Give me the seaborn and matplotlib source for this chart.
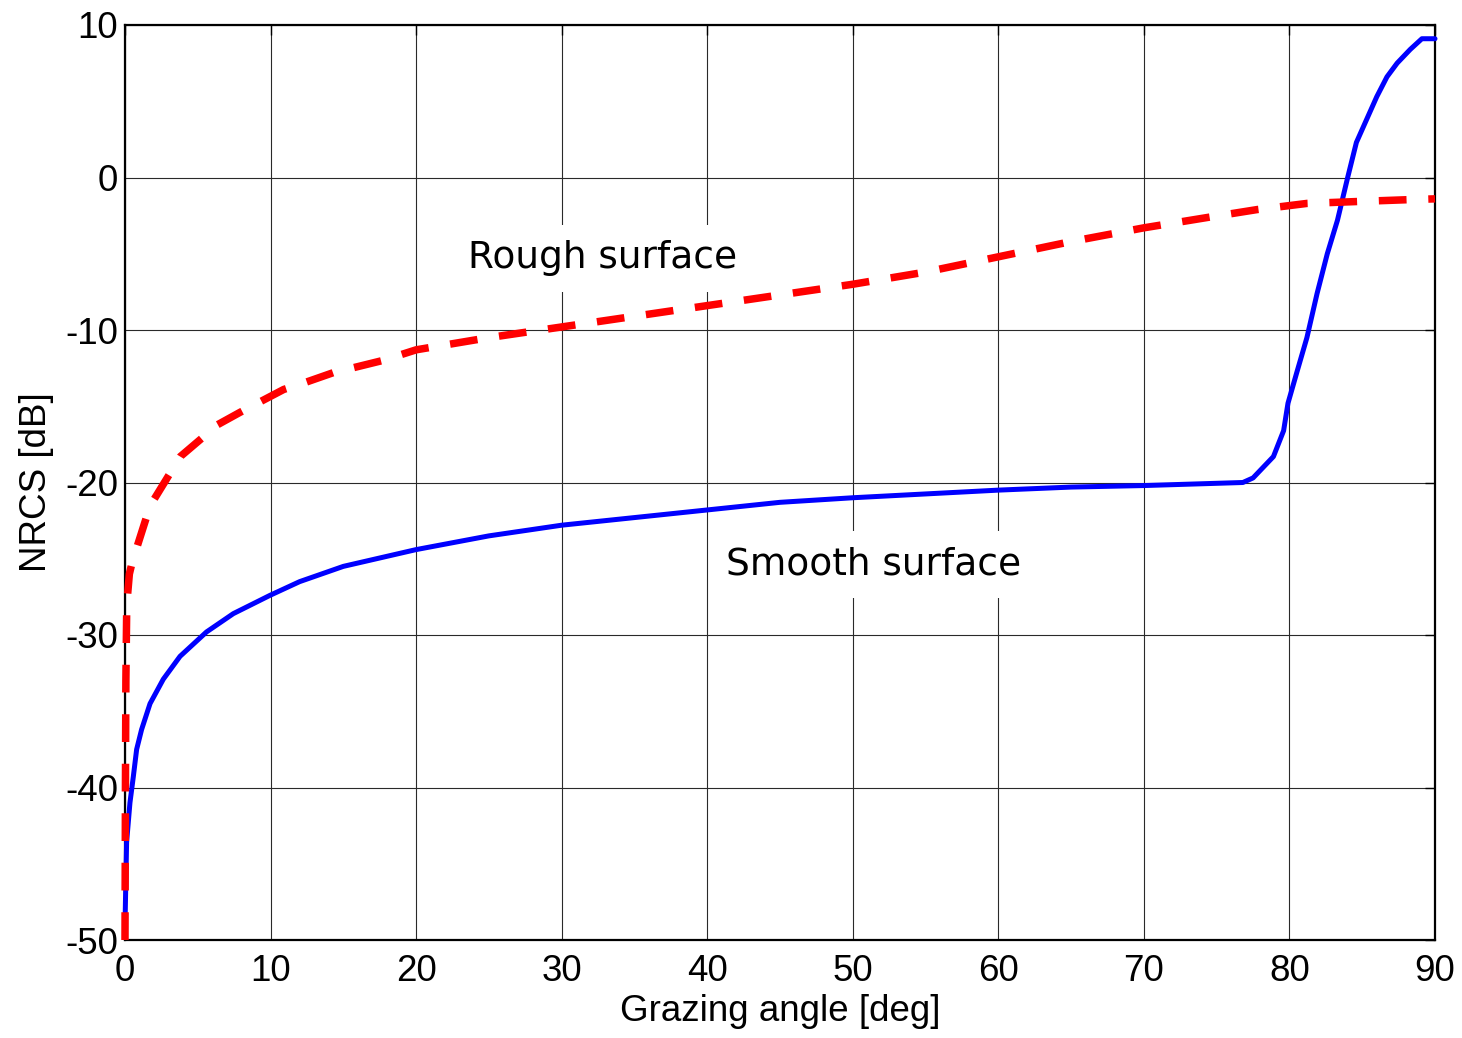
import numpy as np
import pandas as pd
import matplotlib
matplotlib.use("Agg")
import matplotlib.pyplot as plt
import seaborn as sns

# ---- data ----
smooth_angle = [0.0, 0.11, 0.34, 0.57, 0.8, 1.14, 1.72, 2.63, 3.78, 5.6, 7.44, 9.96, 12.0,
                15, 20, 25, 30, 35, 40, 45, 50, 55, 60, 65, 70, 76.8,
                77.5, 78.9, 79.6, 79.9, 80.5, 81.2, 81.9, 82.6, 83.3, 84.0, 84.6,
                85.3, 86.0, 86.7, 87.4, 88.3, 89.1, 90.0]
smooth_nrcs = [-49.0, -43.6, -41.0, -39.3, -37.5, -36.2, -34.5, -32.9, -31.4, -29.8, -28.6, -27.4, -26.5,
               -25.5, -24.4, -23.5, -22.8, -22.3, -21.8, -21.3, -21.0, -20.75, -20.5, -20.3, -20.2, -20.0,
               -19.7, -18.3, -16.6, -14.8, -12.8, -10.5, -7.6, -5.0, -2.8, 0.0, 2.3,
               3.8, 5.3, 6.6, 7.5, 8.4, 9.1, 9.1]

rough_angle = [0.0, 0.03, 0.06, 0.12, 0.3, 0.5, 0.9, 1.5, 2.0, 2.9, 3.8, 5.4, 6.0, 7.9, 9.3,
               10.9, 12.2, 14.3, 17.7, 20, 25, 30, 35, 40, 45, 50, 55, 60, 65, 70,
               74.5, 77.8, 81.2, 84.8, 88.3, 90]
rough_nrcs = [-50.0, -40.0, -33.0, -28.0, -26.0, -25.2, -24.0, -22.2, -21.1, -19.7, -18.3, -17.0, -16.4, -15.4, -14.7,
              -13.9, -13.5, -12.8, -12.0, -11.3, -10.5, -9.8, -9.1, -8.4, -7.7, -7.0, -6.2, -5.2, -4.2, -3.3,
              -2.6, -2.1, -1.7, -1.57, -1.45, -1.4]

x_ticks = [0, 10, 20, 30, 40, 50, 60, 70, 80, 90]
y_ticks = [-50, -40, -30, -20, -10, 0, 10]

smooth_df = pd.DataFrame({"angle": smooth_angle, "nrcs": smooth_nrcs})
rough_df = pd.DataFrame({"angle": rough_angle, "nrcs": rough_nrcs})

sns.set_theme(style="white")
plt.rcParams["font.family"] = ["Liberation Sans", "DejaVu Sans"]
plt.rcParams["axes.unicode_minus"] = False

fig = plt.figure(figsize=(14.62, 10.38), dpi=100)
ax = fig.add_axes([125 / 1462, 1 - 940 / 1038, 1310 / 1462, 915 / 1038])

sns.lineplot(data=smooth_df, x="angle", y="nrcs", ax=ax, color="#0000ff",
             linewidth=3.6, estimator=None, sort=False, zorder=3, clip_on=False)
sns.lineplot(data=rough_df, x="angle", y="nrcs", ax=ax, color="#ff0000",
             linewidth=5.4, estimator=None, sort=False, zorder=4, clip_on=False,
             linestyle=(0, (3.7, 2.9)), dash_capstyle="butt")

ax.set_xlim(0, 90)
ax.set_ylim(-50, 10)
ax.set_xticks(x_ticks)
ax.set_yticks(y_ticks)
ax.set_xticklabels([str(v) for v in x_ticks])
ax.set_yticklabels([str(v) for v in y_ticks])
ax.tick_params(axis="both", which="both", direction="in", length=7, width=1.0,
               labelsize=26.5, colors="black", top=True, right=True)
ax.tick_params(axis="y", pad=5)
ax.tick_params(axis="x", pad=10)

ax.grid(True, color="#2a2a2a", linewidth=0.8, linestyle="-")
ax.set_axisbelow(True)
for sp in ax.spines.values():
    sp.set_visible(True)
    sp.set_color("black")
    sp.set_linewidth(1.6)

ax.set_xlabel("Grazing angle [deg]", fontsize=26.5, color="black", labelpad=4)
ax.set_ylabel("NRCS [dB]", fontsize=26.5, color="black", labelpad=8)

ax.text(32.8, -5.3, "Rough surface", fontsize=27, family="DejaVu Sans",
        ha="center", va="center", color="black", zorder=5,
        bbox=dict(facecolor="white", edgecolor="none", pad=11))
ax.text(51.4, -25.4, "Smooth surface", fontsize=27, family="DejaVu Sans",
        ha="center", va="center", color="black", zorder=5,
        bbox=dict(facecolor="white", edgecolor="none", pad=11))

fig.savefig("out.png", dpi=100, facecolor="white")
